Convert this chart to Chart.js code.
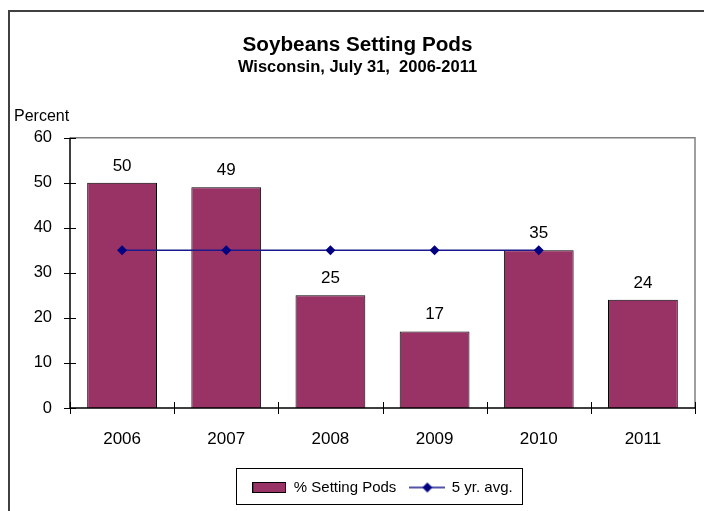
<!DOCTYPE html>
<html>
<head>
<meta charset="utf-8">
<title>Soybeans Setting Pods</title>
<script src="https://cdn.jsdelivr.net/npm/chart.js@4.4.1/dist/chart.umd.min.js"></script>
<style>
  html, body { margin: 0; padding: 0; background: #fff; overflow: hidden; }
  #wrap { position: relative; width: 704px; height: 511px; overflow: hidden; }
</style>
</head>
<body>
<div id="wrap"><canvas id="pods-chart" width="714" height="511"></canvas></div>
<script>
// data
var years = ["2006", "2007", "2008", "2009", "2010", "2011"];
var settingPods = [50, 49, 25, 17, 35, 24];
var fiveYrAvg = [35, 35, 35, 35, 35, null];
var yTicks = [0, 10, 20, 30, 40, 50, 60];

var BAR_COLOR = "#993366";
var LINE_COLOR = "#000080";
var FONT = "'Liberation Sans', Arial, sans-serif";

Chart.defaults.font.family = FONT;
Chart.defaults.color = "#000";

// little legend symbols
function barSwatch() {
  var c = document.createElement("canvas");
  c.width = 34; c.height = 11;
  var g = c.getContext("2d");
  g.fillStyle = BAR_COLOR;
  g.fillRect(0, 0, 34, 11);
  g.strokeStyle = "#000";
  g.lineWidth = 1;
  g.strokeRect(0.5, 0.5, 33, 10);
  return c;
}
function lineSwatch() {
  var c = document.createElement("canvas");
  c.width = 36; c.height = 12;
  var g = c.getContext("2d");
  g.strokeStyle = "#1a1a8c";
  g.lineWidth = 1.5;
  g.beginPath(); g.moveTo(0, 6); g.lineTo(36, 6); g.stroke();
  g.fillStyle = LINE_COLOR;
  g.beginPath(); g.moveTo(18, 1); g.lineTo(23, 6); g.lineTo(18, 11); g.lineTo(13, 6); g.closePath(); g.fill();
  return c;
}

// frame, axis ticks, value labels, legend box
var decorPlugin = {
  id: "decor",
  beforeDraw: function (chart) {
    var ctx = chart.ctx;
    ctx.save();
    ctx.fillStyle = "#404040";
    ctx.fillRect(8, 10, 2, chart.height - 10);
    ctx.fillRect(8, 10, chart.width - 8, 2);
    ctx.restore();
  },
  afterDatasetsDraw: function (chart) {
    var ctx = chart.ctx;
    var meta = chart.getDatasetMeta(0);
    ctx.save();
    ctx.fillStyle = "#000";
    ctx.font = "17px " + FONT;
    ctx.textAlign = "center";
    ctx.textBaseline = "alphabetic";
    meta.data.forEach(function (bar, i) {
      ctx.fillText(String(settingPods[i]), bar.x, bar.y - 12);
    });
    ctx.restore();
  },
  afterDraw: function (chart) {
    var ctx = chart.ctx;
    var a = chart.chartArea;
    var x = chart.scales.x, y = chart.scales.y;
    ctx.save();
    // plot area top/right edge
    ctx.strokeStyle = "#808080";
    ctx.lineWidth = 1.5;
    ctx.beginPath();
    ctx.moveTo(a.left, a.top); ctx.lineTo(a.right, a.top); ctx.lineTo(a.right, a.bottom);
    ctx.stroke();
    // axis lines
    ctx.strokeStyle = "#000";
    ctx.lineWidth = 1.5;
    ctx.beginPath();
    ctx.moveTo(a.left, a.top); ctx.lineTo(a.left, a.bottom); ctx.lineTo(a.right, a.bottom);
    ctx.stroke();
    // cross ticks
    ctx.lineWidth = 1;
    ctx.beginPath();
    y.ticks.forEach(function (t, i) {
      var py = Math.round(y.getPixelForTick(i)) + 0.5;
      ctx.moveTo(a.left - 6, py); ctx.lineTo(a.left + 6, py);
    });
    var half = (x.getPixelForValue(1) - x.getPixelForValue(0)) / 2;
    for (var i = 0; i <= years.length; i++) {
      var px = Math.round(x.getPixelForValue(i) - half) + 0.5;
      ctx.moveTo(px, a.bottom - 6); ctx.lineTo(px, a.bottom + 6);
    }
    ctx.stroke();
    // axis caption
    ctx.fillStyle = "#000";
    ctx.font = "16px " + FONT;
    ctx.textAlign = "left";
    ctx.textBaseline = "alphabetic";
    ctx.fillText("Percent", 14, a.top - 17);
    // legend border
    var hb = chart.legend.legendHitBoxes;
    if (hb && hb.length) {
      var l = Math.min.apply(null, hb.map(function (b) { return b.left; })) - 16;
      var r = Math.max.apply(null, hb.map(function (b) { return b.left + b.width; })) + 10;
      var cy = hb[0].top + hb[0].height / 2;
      ctx.strokeStyle = "#000";
      ctx.lineWidth = 1;
      ctx.strokeRect(Math.round(l) + 0.5, Math.round(cy - 20) + 0.5, Math.round(r - l), 36);
    }
    ctx.restore();
  }
};

new Chart(document.getElementById("pods-chart"), {
  type: "bar",
  data: {
    labels: years,
    datasets: [
      {
        label: "% Setting Pods",
        data: settingPods,
        backgroundColor: BAR_COLOR,
        borderColor: "#000",
        borderWidth: 1,
        barPercentage: 0.67,
        categoryPercentage: 1,
        order: 1
      },
      {
        type: "line",
        label: "5 yr. avg.",
        data: fiveYrAvg,
        borderColor: "#1a1a8c",
        borderWidth: 1.5,
        backgroundColor: LINE_COLOR,
        pointStyle: "rectRot",
        pointRadius: 5,
        pointBorderWidth: 0,
        pointBackgroundColor: LINE_COLOR,
        fill: false,
        spanGaps: false,
        order: 0
      }
    ]
  },
  options: {
    responsive: false,
    animation: false,
    devicePixelRatio: 1,
    layout: { padding: { left: 20, right: 19, top: 0, bottom: 6 } },
    plugins: {
      title: {
        display: true,
        text: "Soybeans Setting Pods",
        font: { size: 20.7, weight: "bold" },
        color: "#000",
        padding: { top: 33, bottom: 0 }
      },
      subtitle: {
        display: true,
        text: "Wisconsin, July 31,  2006-2011",
        font: { size: 16.5, weight: "bold" },
        color: "#000",
        padding: { top: 0, bottom: 60 }
      },
      legend: {
        position: "bottom",
        fullSize: false,
        labels: {
          usePointStyle: true,
          pointStyleWidth: 34,
          padding: 14,
          color: "#000",
          font: { size: 15 },
          generateLabels: function (chart) {
            return [
              { text: "% Setting Pods", pointStyle: barSwatch(), datasetIndex: 0, fontColor: "#000", lineWidth: 0, hidden: false },
              { text: "5 yr. avg.", pointStyle: lineSwatch(), datasetIndex: 1, fontColor: "#000", lineWidth: 0, hidden: false }
            ];
          }
        }
      },
      tooltip: { enabled: false }
    },
    scales: {
      x: {
        grid: { display: false, drawTicks: false },
        border: { display: false },
        ticks: { padding: 21, font: { size: 17 }, color: "#000" },
        afterFit: function (scale) { scale.height = 58; }
      },
      y: {
        min: 0,
        max: 60,
        grid: { display: false, drawTicks: false },
        border: { display: false },
        ticks: {
          stepSize: 10,
          padding: 18,
          font: { size: 16.5 },
          color: "#000",
          callback: function (v) { return yTicks.indexOf(v) >= 0 ? String(v) : ""; }
        },
        afterFit: function (scale) { scale.width = 50; }
      }
    }
  },
  plugins: [decorPlugin]
});
</script>
</body>
</html>
